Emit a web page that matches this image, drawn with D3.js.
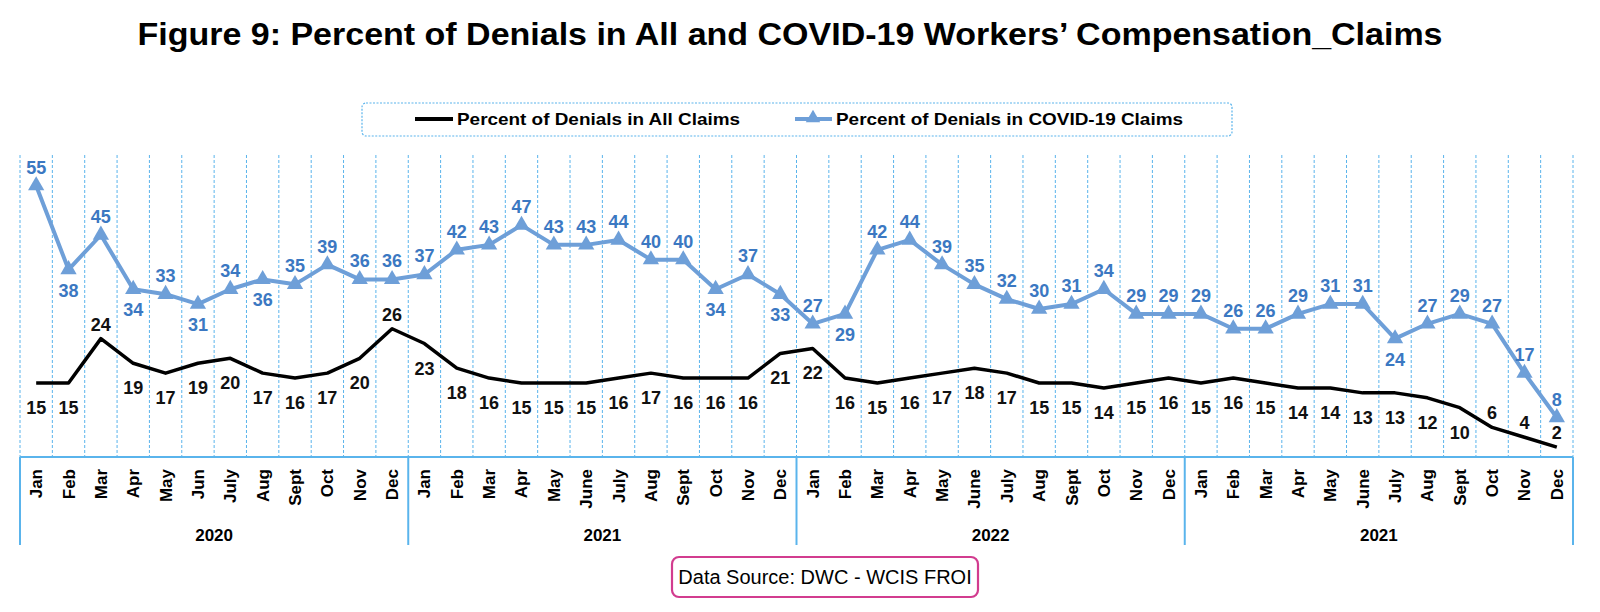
<!DOCTYPE html>
<html>
<head>
<meta charset="utf-8">
<script src="https://cdn.jsdelivr.net/npm/d3@7"></script>
<style>
  body { margin: 0; background: #fff; }
  text { font-family: "Liberation Sans", Arial, sans-serif; }
</style>
</head>
<body>
<div id="chart"></div>
<script>
// month labels, four blocks of twelve
var months = [
    "Jan","Feb","Mar","Apr","May","Jun","July","Aug","Sept","Oct","Nov","Dec",
    "Jan","Feb","Mar","Apr","May","June","July","Aug","Sept","Oct","Nov","Dec",
    "Jan","Feb","Mar","Apr","May","June","July","Aug","Sept","Oct","Nov","Dec",
    "Jan","Feb","Mar","Apr","May","June","July","Aug","Sept","Oct","Nov","Dec"
];
var years = ["2020", "2021", "2022", "2021"];

var allClaims = [
    15,15,24,19,17,19,20,17,16,17,20,26,
    23,18,16,15,15,15,16,17,16,16,16,21,
    22,16,15,16,17,18,17,15,15,14,15,16,
    15,16,15,14,14,13,13,12,10,6,4,2
];
var covidClaims = [
    55,38,45,34,33,31,34,36,35,39,36,36,
    37,42,43,47,43,43,44,40,40,34,37,33,
    27,29,42,44,39,35,32,30,31,34,29,29,
    29,26,26,29,31,31,24,27,29,27,17,8
];

// which labels sit on the other side of their line
var covidBelow = [1,3,5,7,21,23,25,42];
var allAbove = [2,11,45,46,47];

var W = 1600, H = 612;
var plotLeft = 20, plotRight = 1573, plotTop = 155, base = 457, boxBottom = 545;
var gridBlue = "#5ab4ec", lineBlue = "#6e9fd8", labelBlue = "#3b78c2";

var svg = d3.select("#chart").append("svg")
    .attr("width", W)
    .attr("height", H);

var x = d3.scaleBand()
    .domain(d3.range(months.length))
    .range([plotLeft, plotRight])
    .padding(0);

var y = d3.scaleLinear()
    .domain([0, 60])
    .range([base, 161]);

var cx = function(i) { return x(i) + x.bandwidth() / 2; };

// title
svg.append("text")
    .attr("x", 790)
    .attr("y", 45)
    .attr("text-anchor", "middle")
    .attr("font-size", 32)
    .attr("font-weight", "bold")
    .attr("textLength", 1305)
    .attr("lengthAdjust", "spacingAndGlyphs")
    .text("Figure 9: Percent of Denials in All and COVID-19 Workers\u2019 Compensation_Claims");

// legend
var legend = svg.append("g");
legend.append("rect")
    .attr("x", 362).attr("y", 103)
    .attr("width", 870).attr("height", 33)
    .attr("rx", 4)
    .attr("fill", "none")
    .attr("stroke", gridBlue)
    .attr("stroke-width", 1.2)
    .attr("stroke-dasharray", "2,1.5");
legend.append("line")
    .attr("x1", 415).attr("x2", 453)
    .attr("y1", 119).attr("y2", 119)
    .attr("stroke", "#000").attr("stroke-width", 4);
legend.append("text")
    .attr("x", 457).attr("y", 125)
    .attr("font-size", 17).attr("font-weight", "bold")
    .attr("textLength", 283).attr("lengthAdjust", "spacingAndGlyphs")
    .text("Percent of Denials in All Claims");
legend.append("line")
    .attr("x1", 795).attr("x2", 832)
    .attr("y1", 119).attr("y2", 119)
    .attr("stroke", lineBlue).attr("stroke-width", 4);
legend.append("path")
    .attr("d", d3.symbol().type(d3.symbolTriangle).size(90)())
    .attr("transform", "translate(813,118)")
    .attr("fill", lineBlue);
legend.append("text")
    .attr("x", 836).attr("y", 125)
    .attr("font-size", 17).attr("font-weight", "bold")
    .attr("textLength", 347).attr("lengthAdjust", "spacingAndGlyphs")
    .text("Percent of Denials in COVID-19 Claims");

// dashed month grid
var bounds = d3.range(months.length + 1);
svg.append("g").selectAll("line")
    .data(bounds)
    .enter().append("line")
    .attr("x1", function(k) { return plotLeft + k * x.step(); })
    .attr("x2", function(k) { return plotLeft + k * x.step(); })
    .attr("y1", plotTop)
    .attr("y2", base)
    .attr("stroke", gridBlue)
    .attr("stroke-width", 1)
    .attr("stroke-dasharray", "3,2");

// category axis: months
var axis = svg.append("g")
    .attr("transform", "translate(0," + base + ")")
    .call(d3.axisBottom(x).tickSize(0).tickFormat(function(i) { return months[i]; }));
axis.select(".domain").remove();
axis.selectAll("text")
    .attr("font-family", "'Liberation Sans', Arial, sans-serif")
    .attr("font-size", 17)
    .attr("font-weight", "bold")
    .attr("fill", "#000")
    .attr("text-anchor", "end")
    .attr("dy", null)
    .attr("y", 0)
    .attr("transform", "translate(6,12) rotate(-90)");

svg.append("line")
    .attr("x1", plotLeft).attr("x2", plotRight)
    .attr("y1", base).attr("y2", base)
    .attr("stroke", gridBlue).attr("stroke-width", 2);

// year blocks
var yearG = svg.append("g");
d3.range(years.length + 1).forEach(function(k) {
    var xx = plotLeft + k * 12 * x.step();
    yearG.append("line")
        .attr("x1", xx).attr("x2", xx)
        .attr("y1", base).attr("y2", boxBottom)
        .attr("stroke", gridBlue).attr("stroke-width", 2);
});
yearG.selectAll("text")
    .data(years)
    .enter().append("text")
    .attr("x", function(d, k) { return plotLeft + (k * 12 + 6) * x.step(); })
    .attr("y", 541)
    .attr("text-anchor", "middle")
    .attr("font-size", 17)
    .attr("font-weight", "bold")
    .text(function(d) { return d; });

// lines
var line = function(vals) {
    return d3.line()
        .x(function(d, i) { return cx(i); })
        .y(function(d) { return y(d); })(vals);
};

svg.append("path")
    .attr("d", line(allClaims))
    .attr("fill", "none")
    .attr("stroke", "#000")
    .attr("stroke-width", 3.5)
    .attr("stroke-linejoin", "round");

svg.append("path")
    .attr("d", line(covidClaims))
    .attr("fill", "none")
    .attr("stroke", lineBlue)
    .attr("stroke-width", 4)
    .attr("stroke-linejoin", "round");

svg.append("g").selectAll("path")
    .data(covidClaims)
    .enter().append("path")
    .attr("d", d3.symbol().type(d3.symbolTriangle).size(115))
    .attr("transform", function(d, i) { return "translate(" + cx(i) + "," + y(d) + ")"; })
    .attr("fill", lineBlue);

// data labels
svg.append("g").selectAll("text")
    .data(covidClaims)
    .enter().append("text")
    .attr("x", function(d, i) { return cx(i); })
    .attr("y", function(d, i) {
        return covidBelow.indexOf(i) >= 0 ? y(d) + 27 : y(d) - 12;
    })
    .attr("text-anchor", "middle")
    .attr("font-size", 18)
    .attr("font-weight", "bold")
    .attr("fill", labelBlue)
    .text(function(d) { return d; });

svg.append("g").selectAll("text")
    .data(allClaims)
    .enter().append("text")
    .attr("x", function(d, i) { return cx(i); })
    .attr("y", function(d, i) {
        return allAbove.indexOf(i) >= 0 ? y(d) - 8 : y(d) + 31;
    })
    .attr("text-anchor", "middle")
    .attr("font-size", 18)
    .attr("font-weight", "bold")
    .attr("fill", "#111")
    .text(function(d) { return d; });

// source box
svg.append("rect")
    .attr("x", 672).attr("y", 557)
    .attr("width", 306).attr("height", 40)
    .attr("rx", 7)
    .attr("fill", "#fff")
    .attr("stroke", "#d23c8f")
    .attr("stroke-width", 2.2);
svg.append("text")
    .attr("x", 825).attr("y", 584)
    .attr("text-anchor", "middle")
    .attr("font-size", 20)
    .text("Data Source: DWC - WCIS FROI");
</script>
</body>
</html>
